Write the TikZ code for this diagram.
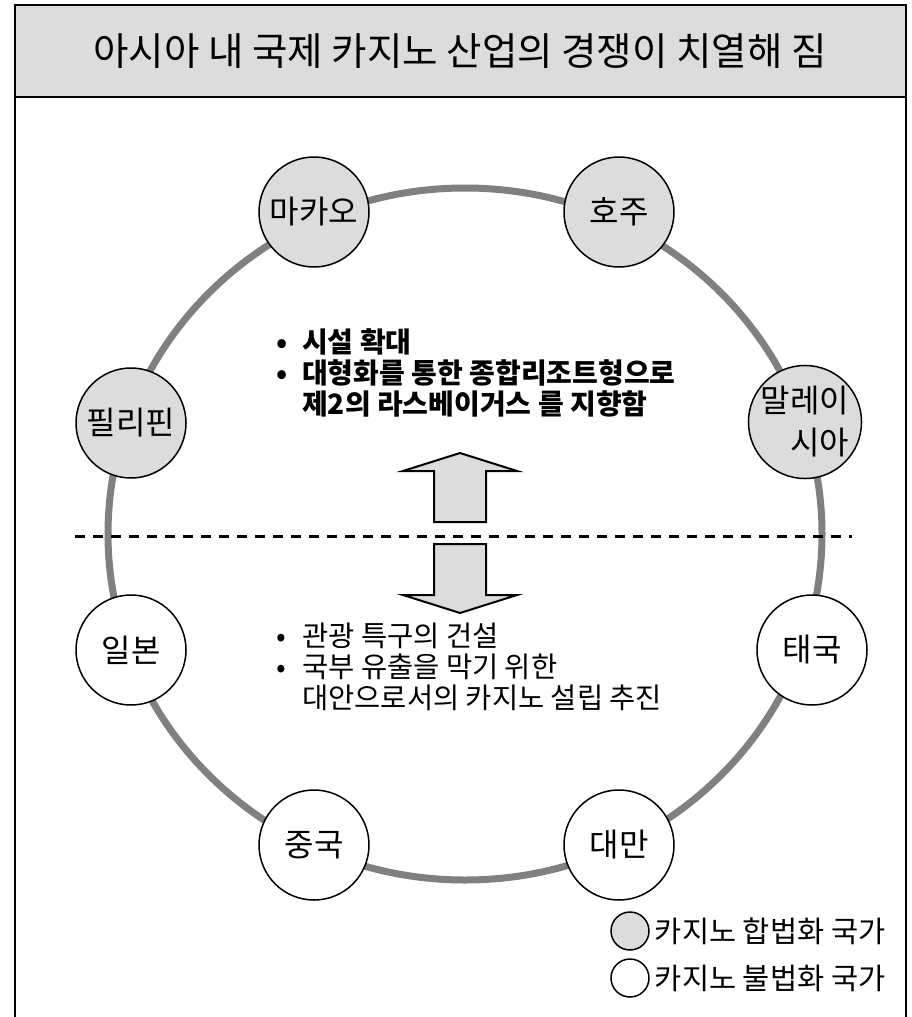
\documentclass[tikz,border=0pt]{standalone}
\usepackage{fontspec}
\setmainfont{Noto Sans CJK KR}
\usetikzlibrary{positioning}
\definecolor{legalgray}{HTML}{DCDCDC}
\definecolor{ringgray}{HTML}{808080}

\begin{document}
\begin{tikzpicture}[x=1pt, y=-1pt,
    nation/.style={draw, circle, line width=1.5pt, minimum size=110pt, inner sep=0pt,
                   font=\fontsize{32}{38}\selectfont},
    legal/.style={nation, fill=legalgray},
    illegal/.style={nation, fill=white},
    key/.style={draw, circle, line width=1.5pt, minimum size=38pt, inner sep=0pt},
    keytext/.style={inner sep=0pt, font=\fontsize{29.5}{34}\selectfont},
    note/.style={anchor=west, align=left, inner sep=0pt, font=\fontsize{28.5}{31}\selectfont},
    bigarr/.style={draw, fill=legalgray, line width=2pt, line join=miter}
  ]
  \useasboundingbox (0,0) rectangle (912,1017);

  % frame and title
  \draw[line width=2pt] (15,1030) -- (15,5) -- (906,5) -- (906,1030);
  \draw[line width=2pt, fill=legalgray] (15,5) rectangle (906,97);
  \node[font=\fontsize{38.5}{44}\selectfont] (title) at (460,51) {아시아 내 국제 카지노 산업의 경쟁이 치열해 짐};

  % ring of countries
  \draw[ringgray, line width=7pt] (465,534) ellipse [x radius=357pt, y radius=346pt];
  \node[legal] (macau) at (314,212) {마카오};
  \node[legal] (australia) at (619,212) {호주};
  \node[legal] (philippines) at (131,423) {필리핀};
  \node[legal, align=right, font=\fontsize{32}{42}\selectfont] (malaysia) at (805,422) {말레이\\시아};
  \node[illegal] (japan) at (131,650) {일본};
  \node[illegal] (thailand) at (812,650) {태국};
  \node[illegal] (china) at (314,845) {중국};
  \node[illegal] (taiwan) at (619,845) {대만};

  % divider and arrows
  \draw[line width=3pt, dash pattern=on 10pt off 8pt] (75,536) -- (852,536);
  \draw[bigarr] (460,453) -- (517,471) -- (486,471) -- (486,522) -- (434,522)
                -- (434,471) -- (403,471) -- cycle;
  \draw[bigarr] (460,613) -- (517,595) -- (486,595) -- (486,544) -- (434,544)
                -- (434,595) -- (403,595) -- cycle;

  % notes
  \node[note, font=\bfseries\fontsize{28}{31}\selectfont] (upper) at (276,373)
    {\makebox[26pt][l]{•}시설 확대\\
     \makebox[26pt][l]{•}대형화를 통한 종합리조트형으로\\
     \hspace*{26pt}제2의 라스베이거스 를 지향함};
  \node[note] (lower) at (276,667)
    {\makebox[26pt][l]{•}관광 특구의 건설\\
     \makebox[26pt][l]{•}국부 유출을 막기 위한\\
     \hspace*{26pt}대안으로서의 카지노 설립 추진};

  % legend
  \node[key, fill=legalgray] (keylegal) at (630,931) {};
  \node[keytext, right=5pt of keylegal] (keylegaltext) {카지노 합법화 국가};
  \node[key, fill=white] (keyillegal) at (630,978) {};
  \node[keytext, right=5pt of keyillegal] (keyillegaltext) {카지노 불법화 국가};
\end{tikzpicture}
\end{document}
